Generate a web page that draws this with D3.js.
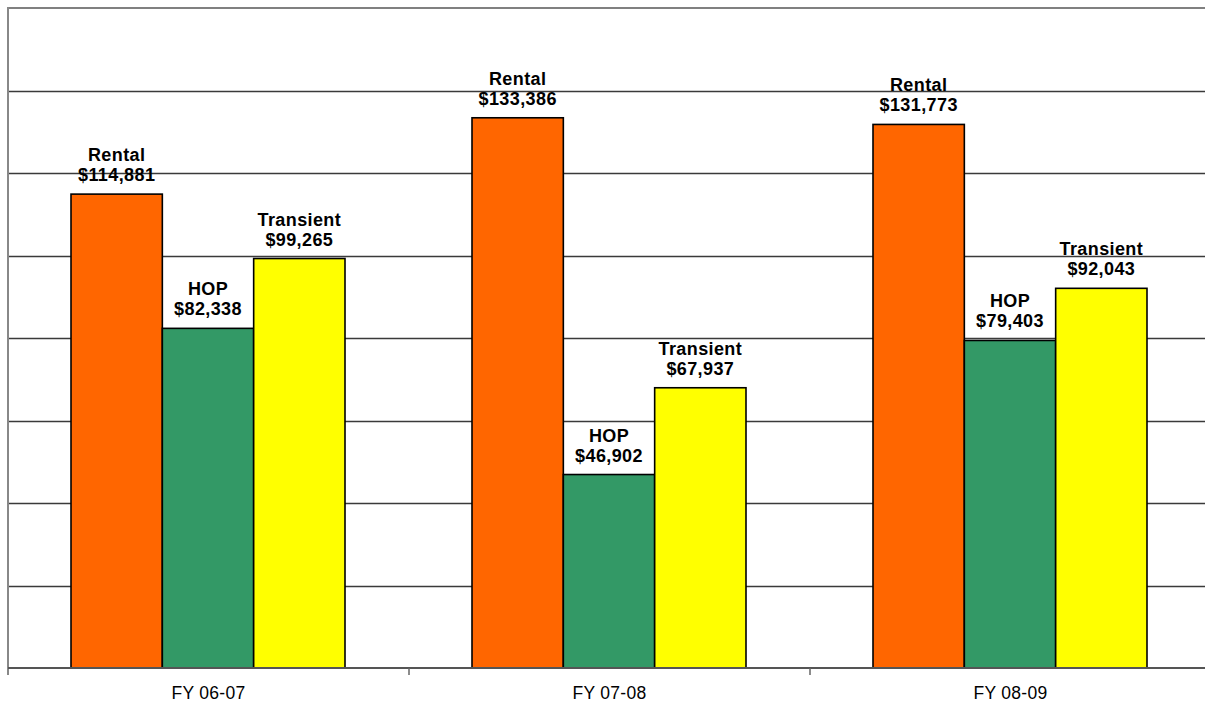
<!DOCTYPE html>
<html><head><meta charset="utf-8">
<script src="https://cdn.jsdelivr.net/npm/d3@7"></script>
<style>html,body{margin:0;padding:0;background:#fff;}svg{display:block;}</style>
</head><body>
<svg id="chart" width="1205" height="704"></svg>
<script>
const categories = ["FY 06-07", "FY 07-08", "FY 08-09"];
const seriesNames = ["Rental", "HOP", "Transient"];
const rental = [114881, 133386, 131773];
const hop = [82338, 46902, 79403];
const transient = [99265, 67937, 92043];
const colors = ["#FF6600", "#339966", "#FFFF00"];
const yTicks = [0, 20000, 40000, 60000, 80000, 100000, 120000, 140000, 160000];

(function () {
const seriesValues = [rental, hop, transient];
const svg = d3.select("#chart");
const pLeft = 8, pRight = 1211, pTop = 8, pBottom = 668;

const x0 = d3.scaleBand().domain(categories).range([pLeft, pRight]).padding(0);
const x1 = d3.scaleBand().domain(seriesNames).range([63, x0.bandwidth() - 64]).padding(0);
const y = d3.scaleLinear().domain([0, 160000]).range([pBottom, pTop]);

// gridlines
svg.append("g").selectAll("line").data(yTicks.filter(t => t > 0 && t < 160000)).join("line")
  .attr("x1", pLeft).attr("x2", 1205)
  .attr("y1", d => Math.round(y(d)) + 0.5).attr("y2", d => Math.round(y(d)) + 0.5)
  .attr("stroke", "#3a3a3a").attr("stroke-width", 1.3);
// top border
svg.append("line").attr("x1", pLeft).attr("x2", 1205).attr("y1", y(160000)).attr("y2", y(160000))
  .attr("stroke", "#808080").attr("stroke-width", 2);
// left axis
svg.append("line").attr("x1", pLeft).attr("x2", pLeft).attr("y1", pTop - 1).attr("y2", pBottom + 7)
  .attr("stroke", "#888").attr("stroke-width", 2);

// bars
const rows = categories.map((c, i) => ({ cat: c, vals: seriesNames.map((s, j) => ({ s, j, v: seriesValues[j][i] })) }));
const g = svg.append("g").selectAll("g").data(rows).join("g")
  .attr("transform", d => `translate(${x0(d.cat)},0)`);
g.selectAll("rect").data(d => d.vals).join("rect")
  .attr("x", d => x1(d.s)).attr("width", x1.bandwidth())
  .attr("y", d => y(d.v)).attr("height", d => y(0) - y(d.v))
  .attr("fill", d => colors[d.j]).attr("stroke", "#000").attr("stroke-width", 1.6);

const fmt = d3.format(",");
const lbl = g.selectAll("text.lbl").data(d => d.vals).join("text").attr("class", "lbl")
  .attr("x", d => x1(d.s) + x1.bandwidth() / 2)
  .attr("text-anchor", "middle")
  .attr("font-family", "'Liberation Sans', Arial, sans-serif")
  .attr("font-weight", "bold").attr("font-size", 18).attr("letter-spacing", 0.4).attr("fill", "#000");
lbl.append("tspan").attr("x", d => x1(d.s) + x1.bandwidth() / 2).attr("y", d => y(d.v) - 33).text(d => d.s);
lbl.append("tspan").attr("x", d => x1(d.s) + x1.bandwidth() / 2).attr("y", d => y(d.v) - 13).text(d => "$" + fmt(d.v));

// x axis
const xAxis = svg.append("g").attr("transform", `translate(0,${pBottom})`);
xAxis.append("line").attr("x1", pLeft).attr("x2", 1205).attr("y1", 0).attr("y2", 0)
  .attr("stroke", "#555").attr("stroke-width", 2);
xAxis.selectAll("line.tick").data(categories.slice(1)).join("line").attr("class", "tick")
  .attr("x1", d => x0(d)).attr("x2", d => x0(d)).attr("y1", 0).attr("y2", 7)
  .attr("stroke", "#666").attr("stroke-width", 1.5);
xAxis.selectAll("text").data(categories).join("text")
  .attr("x", d => x0(d) + x0.bandwidth() / 2).attr("y", 31)
  .attr("text-anchor", "middle")
  .attr("font-family", "'Liberation Sans', Arial, sans-serif")
  .attr("font-size", 17.5).attr("letter-spacing", 0.3).attr("fill", "#000").text(d => d);
})();
</script>
</body></html>
